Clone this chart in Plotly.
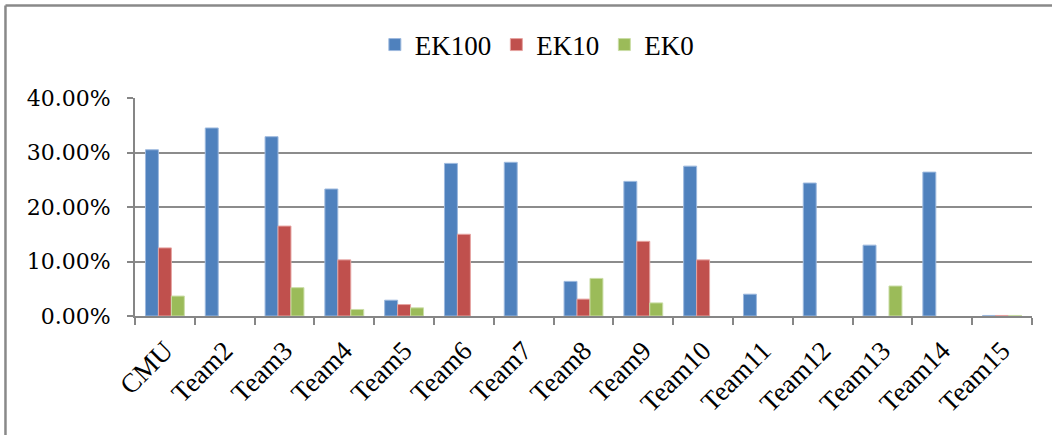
import plotly.graph_objects as go

teams = ["CMU", "Team2", "Team3", "Team4", "Team5", "Team6", "Team7", "Team8",
         "Team9", "Team10", "Team11", "Team12", "Team13", "Team14", "Team15"]

# percentages per team (None = no bar)
ek100 = [30.5, 34.5, 32.9, 23.3, 2.9, 28.0, 28.2, 6.35, 24.7, 27.5, 4.0, 24.4, 13.0, 26.4, 0.1]
ek10 = [12.5, None, 16.5, 10.3, 2.1, 15.0, None, 3.1, 13.7, 10.3, None, None, None, None, 0.1]
ek0 = [3.66, None, 5.2, 1.2, 1.5, None, None, 6.9, 2.4, None, None, None, 5.5, None, 0.1]

y_ticks = [0, 10, 20, 30, 40]
y_labels = ["0.00%", "10.00%", "20.00%", "30.00%", "40.00%"]

series = [
    ("EK100", ek100, "#4F81BD", "#9DB9DE"),
    ("EK10", ek10, "#C0504D", "#E6A3A1"),
    ("EK0", ek0, "#9BBB59", "#CADDA6"),
]

SERIF = "Liberation Serif"
NUM_FONT = "DejaVu Serif"

fig = go.Figure()
for name, vals, color, edge in series:
    fig.add_trace(go.Bar(
        x=teams, y=[None if v is None else v / 100 for v in vals], name=name,
        marker=dict(color=color, line=dict(color=edge, width=1)),
    ))

fig.update_layout(
    width=1052, height=435,
    margin=dict(l=135, r=20, t=98, b=119),
    paper_bgcolor="white", plot_bgcolor="white",
    barmode="group", bargap=0.35, bargroupgap=0,
    font=dict(family=SERIF, size=26, color="black"),
    showlegend=True,
    legend=dict(orientation="h", x=0.448, y=1.243, xanchor="center", yanchor="middle",
                font=dict(family=SERIF, size=27), itemwidth=30, traceorder="normal"),
    xaxis=dict(
        type="category", tickangle=-45, tickson="boundaries",
        ticks="outside", ticklen=7, tickwidth=2, tickcolor="#868686",
        showline=True, linecolor="#868686", linewidth=2,
        showgrid=False, tickfont=dict(family=SERIF, size=27),
        ticklabelstandoff=6,
    ),
    yaxis=dict(
        range=[0, 0.4], tickvals=[v / 100 for v in y_ticks], ticktext=y_labels,
        ticks="outside", ticklen=6, tickwidth=2, tickcolor="#868686",
        showline=True, linecolor="#868686", linewidth=2,
        showgrid=True, gridcolor="#8C8C8C", gridwidth=2,
        zeroline=False, tickfont=dict(family=NUM_FONT, size=22),
        ticklabelstandoff=12,
    ),
    shapes=[
        dict(type="line", xref="paper", yref="paper", x0=-0.1444, x1=1.1, y0=1.424, y1=1.424,
             line=dict(color="#898989", width=2.5)),
        dict(type="line", xref="paper", yref="paper", x0=-0.1444, x1=-0.1444, y0=1.424, y1=-0.6,
             line=dict(color="#898989", width=2.5)),
    ],
)

fig.write_html("out.html")
